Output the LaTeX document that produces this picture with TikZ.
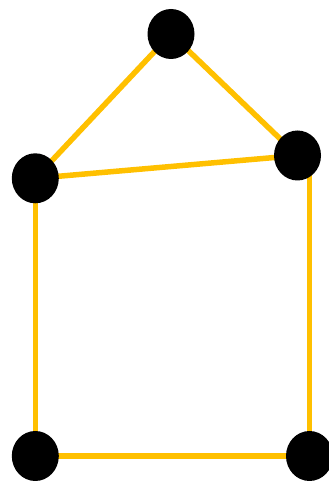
\documentclass[tikz,border=0pt]{standalone}
\usepackage{tikz}
\usetikzlibrary{shapes.geometric,backgrounds}
\definecolor{edgeyellow}{RGB}{255,192,0}

\begin{document}
\begin{tikzpicture}[x=1pt,y=1pt,
  vertex/.style={ellipse,fill=black,inner sep=0pt,minimum width=47pt,minimum height=50pt},
  link/.style={draw=edgeyellow,line width=5.5pt}]
\useasboundingbox (0,0) rectangle (329,482);
% vertices
\node[vertex] (top) at (171,448) {};
\node[vertex] (midL) at (35.3,303.7) {};
\node[vertex] (midR) at (297.5,326.5) {};
\node[vertex] (botL) at (35.3,26) {};
\node[vertex] (botR) at (309.5,26) {};
% edges, behind the vertices
\begin{scope}[on background layer]
\draw[link] (top.center) -- (midL.center);
\draw[link] (top.center) -- (midR.center);
\draw[link] (midL.center) -- (midR.center);
\draw[link] (midL.center) -- (botL.center);
\draw[link] (midR.center) -| (botR.center);
\draw[link] (botL.center) -- (botR.center);
\end{scope}
\end{tikzpicture}
\end{document}
